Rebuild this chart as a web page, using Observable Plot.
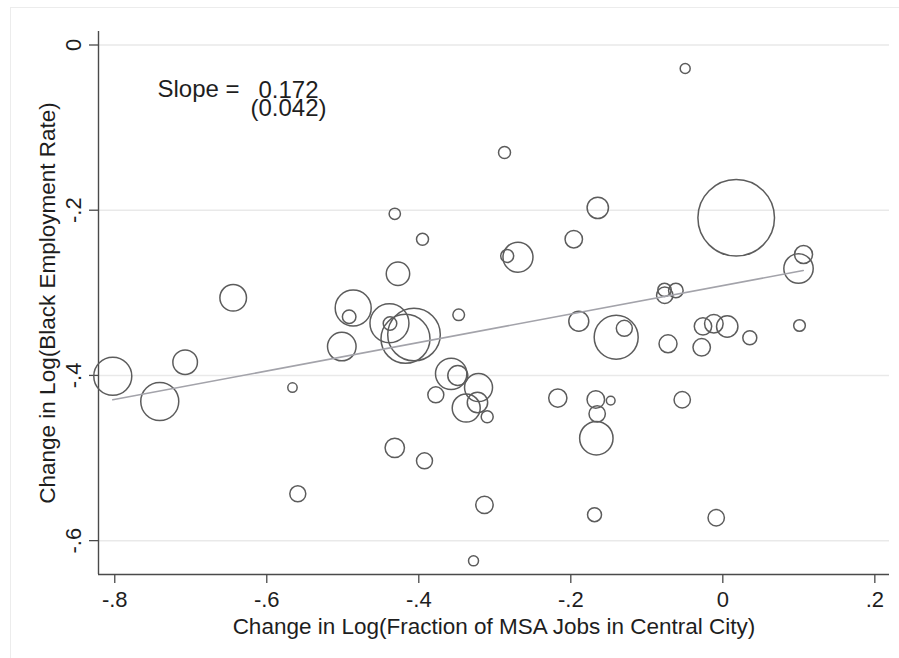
<!DOCTYPE html>
<html>
<head>
<meta charset="utf-8">
<script src="https://cdn.jsdelivr.net/npm/d3@7"></script>
<script src="https://cdn.jsdelivr.net/npm/@observablehq/plot@0.6"></script>
<style>
html, body { margin: 0; padding: 0; background: #fff; }
#wrap { position: relative; width: 899px; height: 658px; overflow: hidden; }
#border { position: absolute; left: 10px; top: 7px; width: 900px; height: 660px;
  border-top: 1.5px solid #ececec; border-left: 1.5px solid #ececec; }
#chart { position: absolute; left: 0; top: 0; }
</style>
</head>
<body>
<div id="wrap"><div id="border"></div><div id="chart"></div></div>
<script>
// Change in log(fraction of MSA jobs in central city), per MSA
const cityX = [-0.8026, -0.7408, -0.7074, -0.6442, -0.5662, -0.5592, -0.5013, -0.4863, -0.4916, -0.4386,
  -0.4379, -0.4063, -0.4175, -0.4316, -0.3951, -0.4274, -0.3475, -0.3574, -0.3487, -0.3214,
  -0.3376, -0.3228, -0.3100, -0.3776, -0.4316, -0.3925, -0.3136, -0.3280, -0.2872, -0.2695,
  -0.2837, -0.2171, -0.1961, -0.1895, -0.1645, -0.1403, -0.1296, -0.1671, -0.1475, -0.1653,
  -0.1664, -0.1688, -0.0767, -0.0764, -0.0618, -0.0721, -0.0534, -0.0495, -0.0261, -0.0118,
  0.0058, -0.0278, -0.0087, 0.0176, 0.0355, 0.1009, 0.1062, 0.0996];
// Change in log(black employment rate), per MSA
const cityY = [-0.4010, -0.4316, -0.3840, -0.3060, -0.4147, -0.5433, -0.3650, -0.3184, -0.3290, -0.3368,
  -0.3372, -0.3505, -0.3557, -0.2044, -0.2351, -0.2769, -0.3266, -0.3981, -0.4001, -0.4147,
  -0.4395, -0.4328, -0.4500, -0.4235, -0.4877, -0.5034, -0.5567, -0.6245, -0.1301, -0.2569,
  -0.2554, -0.4274, -0.2351, -0.3344, -0.1971, -0.3538, -0.3430, -0.4292, -0.4304, -0.4465,
  -0.4760, -0.5686, -0.2964, -0.3030, -0.2972, -0.3617, -0.4294, -0.0285, -0.3406, -0.3375,
  -0.3408, -0.3660, -0.5723, -0.2092, -0.3544, -0.3396, -0.2536, -0.2706];
// Weights (marker area)
const cityWeight = [36.1, 36.1, 15.1, 17.7, 2.2, 6.4, 20.4, 32.4, 4.6, 38.0,
  4.6, 69.2, 60.0, 3.2, 3.6, 13.7, 3.4, 24.6, 10.0, 19.6,
  19.6, 10.4, 3.6, 6.4, 9.4, 6.4, 7.6, 2.5, 3.6, 22.5,
  4.2, 8.3, 7.6, 10.0, 11.4, 48.4, 6.4, 7.7, 1.9, 6.7,
  27.9, 4.9, 4.5, 6.7, 5.3, 8.1, 6.7, 2.5, 7.6, 8.6,
  11.4, 7.6, 6.7, 146.7, 4.9, 3.4, 8.1, 21.6];

// Fitted regression line endpoints
const fitX = [-0.8026, 0.1058];
const fitY = [-0.4295, -0.2730];

// Tick values and labels
const xTicks = [-0.8, -0.6, -0.4, -0.2, 0, 0.2];
const xTickLabels = ["-.8", "-.6", "-.4", "-.2", "0", ".2"];
const yTicks = [0, -0.2, -0.4, -0.6];
const yTickLabels = ["0", "-.2", "-.4", "-.6"];

const xTitle = "Change in Log(Fraction of MSA Jobs in Central City)";
const yTitle = "Change in Log(Black Employment Rate)";
const slopeLabel = "Slope =";
const slopeValue = "0.172";
const slopeSE = "(0.042)";

const cities = cityX.map((x, i) => ({x, y: cityY[i], w: cityWeight[i]}));
const fit = fitX.map((x, i) => ({x, y: fitY[i]}));

const xDomain = [-0.8214, 0.2193];
const yDomain = [-0.641, 0.01634];
const font = "'Liberation Sans', Arial, Helvetica, sans-serif";
const axisColor = "#4a4a4a";
const textColor = "#1e1e1e";

const chart = Plot.plot({
  width: 899,
  height: 658,
  marginLeft: 98,
  marginRight: 10,
  marginTop: 31,
  marginBottom: 84,
  style: {fontFamily: font, fontSize: "22px", background: "transparent", color: textColor},
  x: {domain: xDomain},
  y: {domain: yDomain},
  r: {type: "sqrt", domain: [0, 146.7], range: [0, 38.3]},
  marks: [
    Plot.gridY(yTicks, {stroke: "#e9e9e9", strokeOpacity: 1, strokeWidth: 1.5}),
    Plot.ruleX([xDomain[0]], {stroke: axisColor, strokeWidth: 1.4}),
    Plot.ruleY([yDomain[0]], {stroke: axisColor, strokeWidth: 1.4}),
    Plot.axisX({ticks: xTicks, tickFormat: d => xTickLabels[xTicks.indexOf(d)], tickSize: 9, tickPadding: 7.5,
      stroke: axisColor, strokeWidth: 1.3, fill: textColor, fontSize: 22, label: null}),
    Plot.axisY({ticks: yTicks, tickFormat: d => yTickLabels[yTicks.indexOf(d)], tickSize: 9, tickPadding: 8.5,
      tickRotate: -90, stroke: axisColor, strokeWidth: 1.3, fill: textColor, fontSize: 22, label: null}),
    Plot.dot(cities, {x: "x", y: "y", r: "w", stroke: "#5c5c5c", strokeWidth: 1.5, fill: "none"}),
    Plot.line(fit, {x: "x", y: "y", stroke: "#a3a3aa", strokeWidth: 1.6}),
    Plot.text([xTitle], {text: d => d, frameAnchor: "bottom", dy: 59, lineAnchor: "bottom",
      fontSize: 22.5, fill: textColor}),
    Plot.text([yTitle], {text: d => d, frameAnchor: "left", rotate: -90, dx: -44, lineAnchor: "bottom",
      textAnchor: "middle", fontSize: 22.5, fill: textColor}),
    Plot.text([slopeLabel], {text: d => d, x: () => -0.7438, y: () => -0.0627, textAnchor: "start",
      lineAnchor: "bottom", fontSize: 24, fill: textColor}),
    Plot.text([slopeValue + "\n" + slopeSE], {text: d => d, x: () => -0.5714, y: () => -0.0862,
      textAnchor: "middle", lineAnchor: "bottom", lineHeight: 0.77, fontSize: 24, fill: textColor})
  ]
});
document.getElementById("chart").appendChild(chart);
</script>
</body>
</html>
